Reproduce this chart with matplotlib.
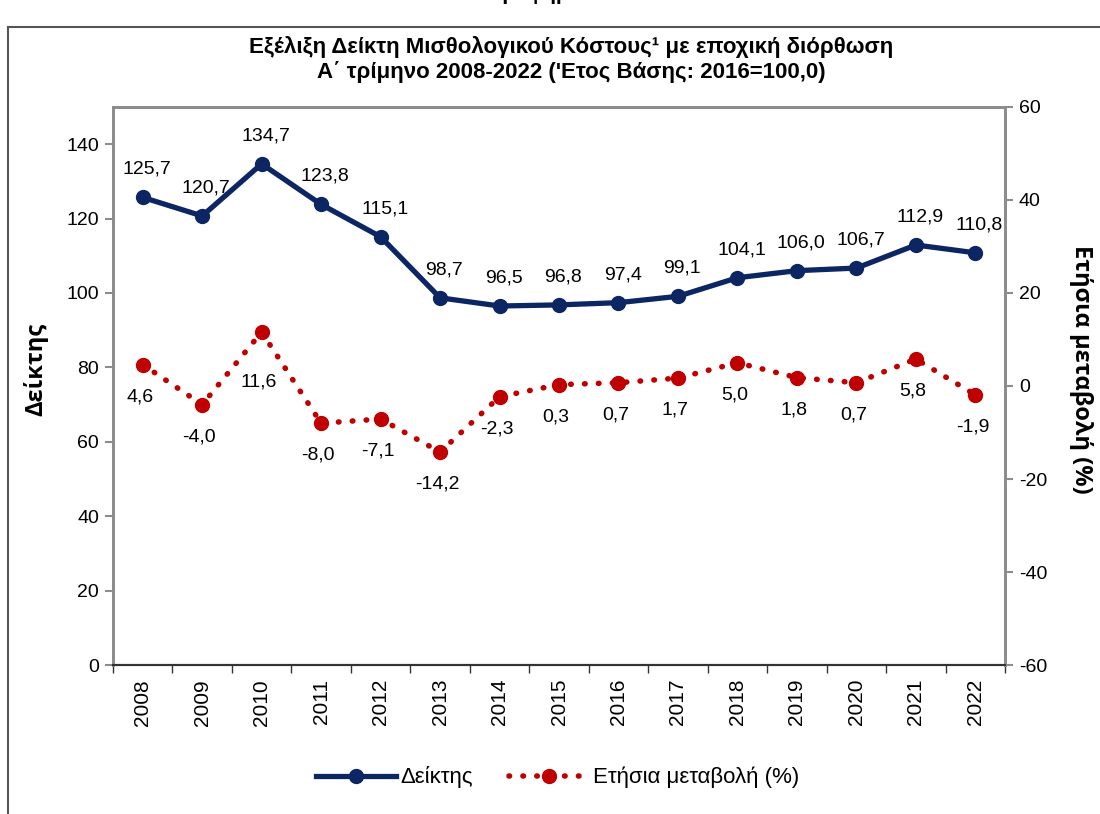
import numpy as np
import matplotlib
matplotlib.use("Agg")
import matplotlib.pyplot as plt
from matplotlib.lines import Line2D

plt.rcParams['font.family'] = ['Liberation Sans', 'DejaVu Sans']
plt.rcParams['axes.unicode_minus'] = False

# data
years = [str(y) for y in range(2008, 2023)]
deiktis = [125.7, 120.7, 134.7, 123.8, 115.1, 98.7, 96.5, 96.8, 97.4, 99.1,
           104.1, 106.0, 106.7, 112.9, 110.8]
metavoli = [4.6, -4.0, 11.6, -8.0, -7.1, -14.2, -2.3, 0.3, 0.7, 1.7,
            5.0, 1.8, 0.7, 5.8, -1.9]
left_ticks = [0, 20, 40, 60, 80, 100, 120, 140]
right_ticks = [-60, -40, -20, 0, 20, 40, 60]

BLUE = '#0c2663'
RED = '#c00000'
GRAY = '#8c8c8c'


def fmt(v):
    return "{:.1f}".format(v).replace('.', ',')


fig = plt.figure(figsize=(11, 8.14), dpi=100)
ax = fig.add_axes([0.1027, 0.183, 0.811, 0.6856])
ax2 = ax.twinx()

x = np.arange(len(years))

ax.plot(x, deiktis, color=BLUE, lw=3.8, marker='o', ms=10,
        solid_joinstyle='round', zorder=3, label='Δείκτης')
ax2.plot(x, metavoli, color=RED, lw=4, ls=(0, (0.1, 2.4)),
         dash_capstyle='round', marker='o', ms=10, zorder=3,
         label='Ετήσια μεταβολή (%)')

for i, v in enumerate(deiktis):
    ax.annotate(fmt(v), (x[i], v), xytext=(3, 14), textcoords='offset points',
                ha='center', va='bottom', fontsize=14)
for i, v in enumerate(metavoli):
    dy = -30 if v > 10 else -17   # push the label below the dotted line at the peak
    ax2.annotate(fmt(v), (x[i], v), xytext=(-2, dy), textcoords='offset points',
                 ha='center', va='top', fontsize=14)

ax.set_xlim(-0.5, len(years) - 0.5)
ax.set_ylim(0, 150)
ax2.set_ylim(-60, 60)
ax.set_yticks(left_ticks)
ax2.set_yticks(right_ticks)

ax.set_xticks(x)
ax.set_xticklabels(years, rotation=90, fontsize=15)
ax.set_xticks(np.arange(-0.5, len(years), 1), minor=True)
ax.tick_params(axis='x', which='major', length=0, pad=10)
ax.tick_params(axis='x', which='minor', length=6, color='#333333', width=1)
ax.tick_params(axis='y', labelsize=14, length=6, color=GRAY, width=1.5, pad=4)
ax2.tick_params(axis='y', labelsize=14, length=6, color=GRAY, width=1.5, pad=4)

for a in (ax, ax2):
    for s in ['left', 'right', 'top']:
        a.spines[s].set_color(GRAY)
        a.spines[s].set_linewidth(2)
    a.spines['bottom'].set_color('#333333')
    a.spines['bottom'].set_linewidth(1.5)

ax.set_ylabel('Δείκτης', fontsize=17, fontweight='bold', family='Open Sans')
ax.yaxis.set_label_coords(-0.072, 0.53)
ax2.set_ylabel('Ετήσια μεταβολή (%)', fontsize=17, fontweight='bold',
               family='Open Sans', rotation=270, va='center')
ax2.yaxis.set_label_coords(1.085, 0.53)

fig.text(0.519, 0.942, 'Εξέλιξη Δείκτη Μισθολογικού Κόστους¹ με εποχική διόρθωση',
         ha='center', va='center', fontsize=16, fontweight='bold')
fig.text(0.519, 0.911, 'Α΄ τρίμηνο 2008-2022 (\'Ετος Βάσης: 2016=100,0)',
         ha='center', va='center', fontsize=16, fontweight='bold')

# partly hidden heading at the very top
fig.text(0.495, 1.0, 'Γράφημα 1', ha='center', va='baseline',
         fontsize=15, fontweight='bold')

# outer frame
fig.add_artist(Line2D([0.0075, 0.0075], [0.0, 0.967], transform=fig.transFigure,
                      color='#555555', lw=1.5))
fig.add_artist(Line2D([0.0075, 1.0], [0.967, 0.967], transform=fig.transFigure,
                      color='#555555', lw=1.5))

h1, l1 = ax.get_legend_handles_labels()
h2, l2 = ax2.get_legend_handles_labels()
fig.legend(h1 + h2, l1 + l2, loc='center', bbox_to_anchor=(0.507, 0.045),
           ncol=2, frameon=False, fontsize=16, handlelength=3.6,
           columnspacing=1.6, handletextpad=0.2)

fig.savefig('out.png', dpi=100)
